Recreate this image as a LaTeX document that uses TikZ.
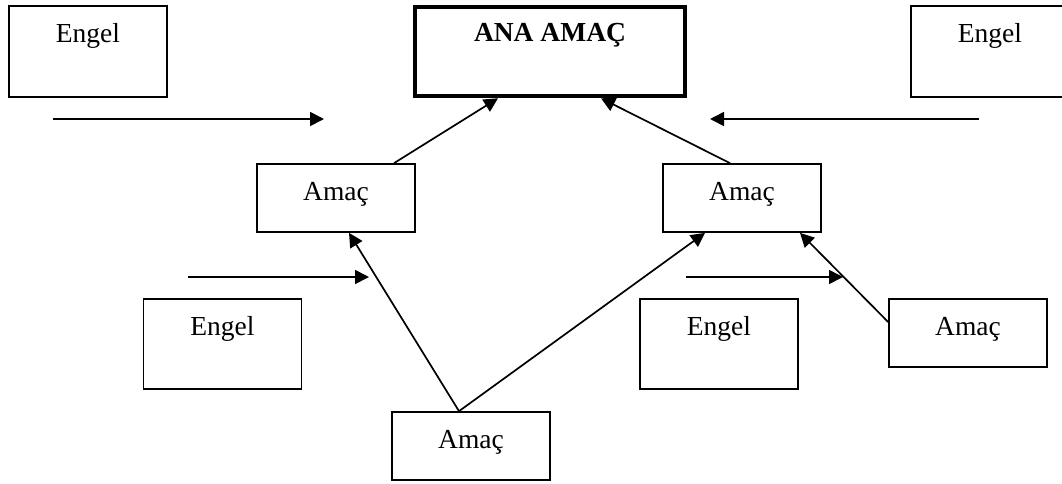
\documentclass[tikz,border=0pt]{standalone}
\usepackage{fontspec}
\setmainfont{Liberation Serif}
\usetikzlibrary{arrows.meta,calc}
\begin{document}
\begin{tikzpicture}[x=1pt,y=-1pt,
  box/.style={draw, line width=1.7pt, inner sep=0pt, minimum width=158pt, minimum height=#1},
  goalbox/.style={draw, line width=4.5pt, inner sep=0pt, minimum width=270pt, minimum height=89pt},
  lbl/.style={anchor=base, inner sep=0pt, font=\fontsize{27.5}{33}\selectfont},
  link/.style={line width=1.7pt, -{Triangle[length=14pt,width=14pt]}}]
\clip (0,0) rectangle (1062,483);

% boxes
\node[goalbox] (goal) at (550,51.5) {};
\node[box=91pt] (e1) at (88,51.5) {};
\node[box=91pt] (e2) at (990,51.5) {};
\node[box=68pt] (a1) at (336,198) {};
\node[box=68pt] (a2) at (742,198) {};
\node[box=90pt] (e3) at (222.5,344) {};
\node[box=90pt] (e4) at (719,344) {};
\node[box=68pt] (a3) at (968,333) {};
\node[box=68pt] (a4) at (471,446) {};

% labels
\node[lbl, font=\fontsize{27.5}{33}\selectfont\bfseries] (goalt) at ([yshift=-37pt]goal.north) {ANA AMAÇ};
\node[lbl] (e1t) at ([yshift=-37pt]e1.north) {Engel};
\node[lbl] (e2t) at ([yshift=-37pt]e2.north) {Engel};
\node[lbl] (a1t) at ([yshift=-37pt]a1.north) {Amaç};
\node[lbl] (a2t) at ([yshift=-37pt]a2.north) {Amaç};
\node[lbl] (e3t) at ([yshift=-37pt]e3.north) {Engel};
\node[lbl] (e4t) at ([yshift=-37pt]e4.north) {Engel};
\node[lbl] (a3t) at ([yshift=-37pt]a3.north) {Amaç};
\node[lbl] (a4t) at ([yshift=-37pt]a4.north) {Amaç};

% obstacle arrows
\coordinate (o1s) at (53,119);  \coordinate (o1e) at (324,119);
\coordinate (o2s) at (979,119); \coordinate (o2e) at (710,119);
\coordinate (o3s) at (188,277); \coordinate (o3e) at (369,277);
\coordinate (o4s) at (686,277); \coordinate (o4e) at (843,277);
\draw[link] (o1s) -- (o1e);
\draw[link] (o2s) -- (o2e);
\draw[link] (o3s) -- (o3e);
\draw[link] (o4s) -- (o4e);

% goal links
\draw[link] ($(a1.north)+(58,0)$) -- ($(goal.south)+(-52,0)$);
\draw[link] ($(a2.north)+(-12,0)$) -- ($(goal.south)+(51,0)$);
\draw[link] ($(a4.north)+(-12,0)$) -- ($(a1.south)+(13,0)$);
\draw[link] ($(a4.north)+(-12,0)$) -- ($(a2.south)+(-37,0)$);
\draw[link] ($(a3.west)+(0,-11)$) -- ($(a2.south)+(58,0)$);
\end{tikzpicture}
\end{document}
